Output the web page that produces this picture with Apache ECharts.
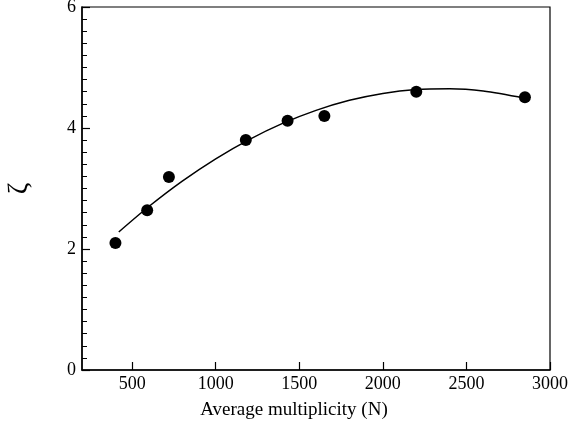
<!DOCTYPE html>
<html>
<head>
<meta charset="utf-8">
<script src="https://cdn.jsdelivr.net/npm/echarts@6/dist/echarts.min.js"></script>
<style>html,body{margin:0;padding:0;background:#fff}#c{width:570px;height:425px}</style>
</head>
<body>
<div id="c"></div>
<script>
const xTicks = [500, 1000, 1500, 2000, 2500, 3000];
const yTicks = [0, 2, 4, 6];
const pointsX = [400, 590, 720, 1180, 1430, 1650, 2200, 2850];
const pointsY = [2.10, 2.64, 3.19, 3.80, 4.12, 4.20, 4.60, 4.51];
const fitX = [420, 600, 800, 1000, 1200, 1400, 1600, 1800, 2000, 2200, 2400, 2600, 2850];
const fitY = [2.281, 2.702, 3.122, 3.491, 3.809, 4.076, 4.292, 4.458, 4.572, 4.636, 4.648, 4.610, 4.491];
const xName = 'Average multiplicity (N)';
const yName = 'ζ';

const font = 'Liberation Serif';
const chart = echarts.init(document.getElementById('c'));
chart.setOption({
  animation: false,
  grid: {left: 82, right: 20, top: 7, bottom: 55, outerBoundsMode: 'none', containLabel: false,
         show: true, borderColor: '#000', borderWidth: 1.2},
  xAxis: {
    type: 'value', min: 200, max: 3000,
    axisLine: {show: true, onZero: false, lineStyle: {color: '#000', width: 1.5}},
    axisTick: {show: true, inside: true, length: 8, customValues: xTicks, lineStyle: {color: '#000', width: 1.2}},
    axisLabel: {customValues: xTicks, formatter: v => String(v), color: '#000', fontFamily: font, fontSize: 18, margin: 5},
    splitLine: {show: false},
    name: xName, nameLocation: 'middle', nameGap: 31,
    nameTextStyle: {color: '#000', fontFamily: font, fontSize: 19, padding: [0, 44, 0, 0]}
  },
  yAxis: {
    type: 'value', min: 0, max: 6, interval: 2,
    axisLine: {show: true, lineStyle: {color: '#000', width: 1.5}},
    axisTick: {show: true, inside: true, length: 8, lineStyle: {color: '#000', width: 1.2}},
    minorTick: {show: true, splitNumber: 10, length: 5, lineStyle: {color: '#000', width: 1}},
    axisLabel: {customValues: yTicks, formatter: v => String(v), color: '#000', fontFamily: font, fontSize: 18, margin: 6},
    splitLine: {show: false},
    name: yName, nameLocation: 'middle', nameGap: 48, nameRotate: 90,
    nameTextStyle: {color: '#000', fontFamily: font, fontSize: 28}
  },
  series: [
    {
      type: 'line', data: fitX.map((x, i) => [x, fitY[i]]),
      smooth: 0.3, showSymbol: false, lineStyle: {color: '#000', width: 1.5}, z: 2
    },
    {
      type: 'scatter', data: pointsX.map((x, i) => [x, pointsY[i]]),
      symbol: 'circle', symbolSize: 12, itemStyle: {color: '#000', opacity: 1}, z: 3
    }
  ]
});
</script>
</body>
</html>
